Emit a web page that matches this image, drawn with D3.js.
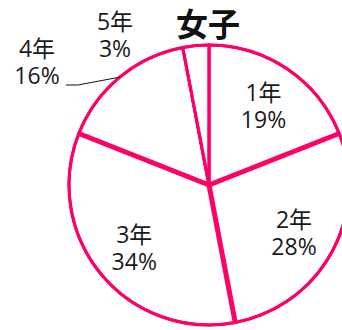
<!DOCTYPE html>
<html>
<head>
<meta charset="utf-8">
<script src="https://cdn.jsdelivr.net/npm/d3@7"></script>
<style>
  html, body { margin: 0; padding: 0; background: #fff; }
  svg { display: block; }
  text { font-family: "Noto Sans CJK JP", "Noto Sans", sans-serif; fill: #111; }
  text.lbl { font-family: "Open Sans", "Noto Sans CJK JP", sans-serif; fill: #1a1a1a; }
</style>
</head>
<body>
<svg id="chart" width="342" height="330"></svg>
<script>
// 学年別の構成比（女子）
const title = "女子";
const grades = ["1年", "2年", "3年", "4年", "5年"];
const shares = [19, 28, 34, 16, 3];

const W = 342, H = 330;
const cx = 209, cy = 185, R = 140;
const pink = "#ff0066";

const svg = d3.select("#chart");
const g = svg.append("g").attr("transform", `translate(${cx},${cy})`);

const pie = d3.pie().sort(null).value(d => d.value);
const data = grades.map((k, i) => ({ label: k, value: shares[i] }));
const arcs = pie(data);

const arc = d3.arc().innerRadius(0).outerRadius(R);

// slices: white fill, thin outline
g.selectAll("path.slice")
  .data(arcs)
  .enter().append("path")
  .attr("class", "slice")
  .attr("d", arc)
  .attr("fill", "#fff")
  .attr("stroke", pink)
  .attr("stroke-width", 3)
  .attr("stroke-linejoin", "round");

// heavier radial dividers between the larger slices
const heavy = new Set([1, 2, 3]);
arcs.forEach((a, i) => {
  const ang = a.startAngle;
  g.append("line")
    .attr("x1", 0).attr("y1", 0)
    .attr("x2", R * Math.sin(ang))
    .attr("y2", -R * Math.cos(ang))
    .attr("stroke", pink)
    .attr("stroke-width", heavy.has(i) ? 5 : 3)
    .attr("stroke-linecap", "butt");
});

// outer rim
g.append("circle")
  .attr("r", R)
  .attr("fill", "none")
  .attr("stroke", pink)
  .attr("stroke-width", 3);

// labels: grade on the first line, share on the second
const labelArc = d3.arc().innerRadius(97).outerRadius(97);
const fs = 23;
function addLabel(x, y, a) {
  const t = g.append("text")
    .attr("class", "lbl")
    .attr("text-anchor", "middle")
    .attr("font-size", fs);
  t.append("tspan").attr("x", x).attr("y", y).text(a.data.label);
  t.append("tspan").attr("x", x).attr("y", y + 27).text(a.data.value + "%");
}
arcs.slice(0, 3).forEach(a => {
  const [x, y] = labelArc.centroid(a);
  addLabel(x, y - 4, a);
});

// outside labels for the small slices
const a4 = arcs[3], a5 = arcs[4];
addLabel(-172, -128, a4);
addLabel(-94, -155, a5);

// leader line for 4年
const mid4 = (a4.startAngle + a4.endAngle) / 2;
const ex = R * Math.sin(mid4), ey = -R * Math.cos(mid4);
g.append("path")
  .attr("d", `M${ex},${ey} L${-131},${-100} L${-143},${-100}`)
  .attr("fill", "none")
  .attr("stroke", "#111")
  .attr("stroke-width", 1);

// title
svg.append("text")
  .attr("x", 208)
  .attr("y", 36)
  .attr("text-anchor", "middle")
  .attr("font-size", 32)
  .attr("font-weight", "bold")
  .text(title);
</script>
</body>
</html>
